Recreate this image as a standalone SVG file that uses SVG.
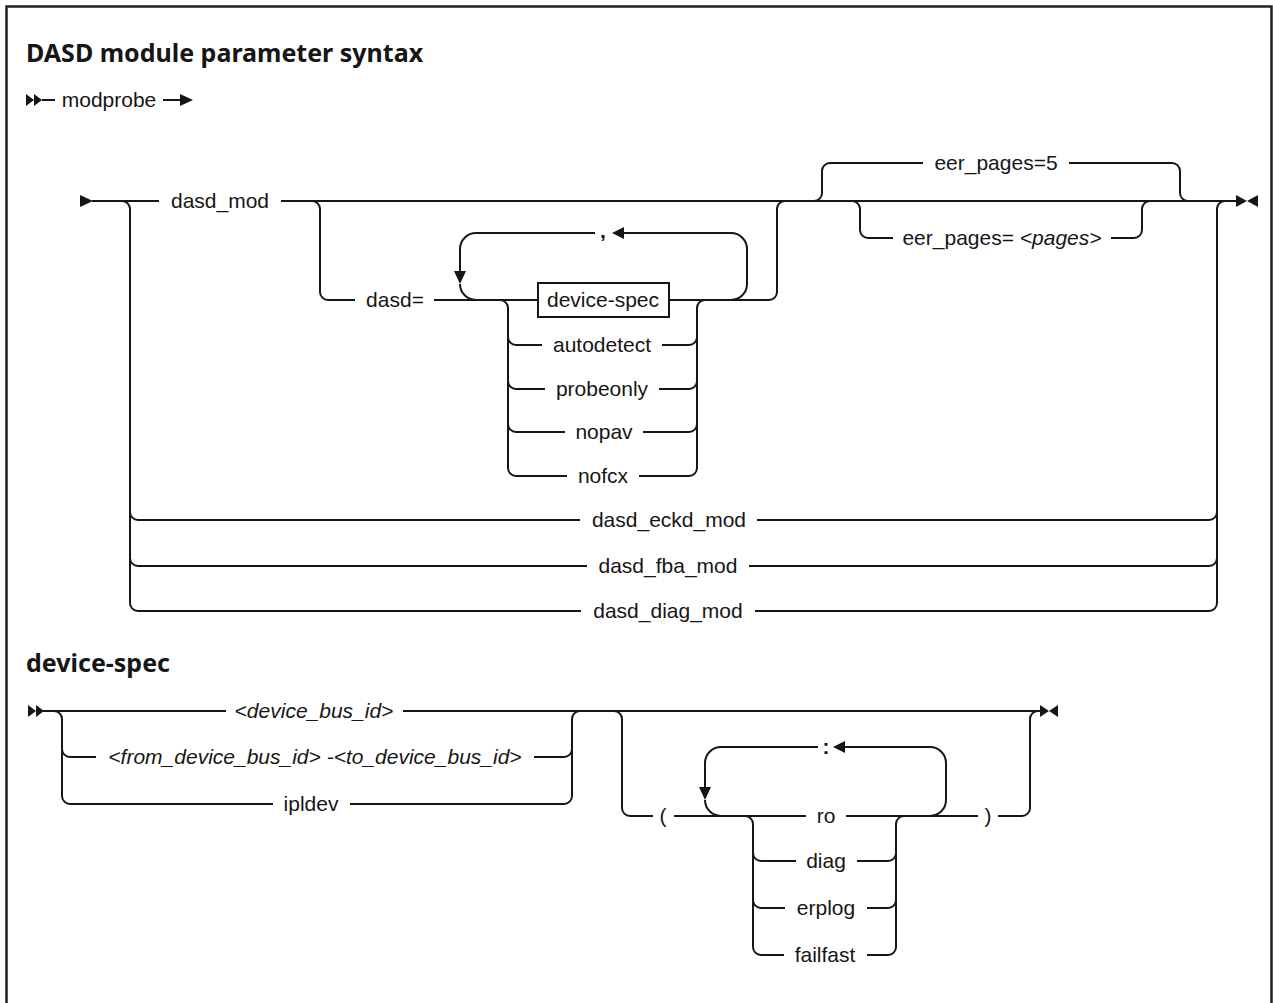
<svg xmlns="http://www.w3.org/2000/svg" width="1273" height="1003" viewBox="0 0 1273 1003">
<style>
.l{fill:none;stroke:#161616;stroke-width:2}
.a{fill:#161616}
.t{font-family:"Liberation Sans",Arial,sans-serif;font-size:21px;fill:#161616;text-anchor:middle}
.i{font-style:italic}
.h{font-family:"Noto Sans","Liberation Sans",sans-serif;font-size:25px;font-weight:bold;fill:#161616}
</style>
<rect width="1273" height="1003" fill="#fff"/>
<path d="M6.5,1003 V6.5 H1271.5 V1003" fill="none" stroke="#222" stroke-width="2.5"/>
<g id="titles">
<text class="h" x="26" y="62">DASD module parameter syntax</text>
<text class="h" x="26" y="672">device-spec</text>
</g>
<g id="connectors">
<polygon class="a" points="26,94 34,100 26,106"/><polygon class="a" points="34,94 42,100 34,106"/>
<path class="l" d="M42,100 H55 M163,100 H181"/>
<polygon class="a" points="180,94 193,100 180,106"/>
<polygon class="a" points="80,195 93,201 80,207"/>
<path class="l" d="M92,201 H159 M281,201 H1237"/>
<path class="l" d="M122,201 a8,8 0 0 1 8,8 V603 a8,8 0 0 0 8,8 H581 M130,512 a8,8 0 0 0 8,8 H580 M130,558 a8,8 0 0 0 8,8 H587"/>
<path class="l" d="M757,520 H1209 a8,8 0 0 0 8,-8 M749,566 H1209 a8,8 0 0 0 8,-8 M755,611 H1209 a8,8 0 0 0 8,-8 V209 a8,8 0 0 1 8,-8"/>
<path class="l" d="M312,201 a8,8 0 0 1 8,8 V292 a8,8 0 0 0 8,8 H355 M434,300 H538"/>
<path class="l" d="M595,233 H476 a16,16 0 0 0 -16,16 V272 M460,284 a16,16 0 0 0 16,16"/>
<polygon class="a" points="454,271 466,271 460,284"/>
<polygon class="a" points="612,233 624,227 624,239"/>
<path class="l" d="M623,233 H731 a16,16 0 0 1 16,16 V284 a16,16 0 0 1 -16,16"/>
<path class="l" d="M669,300 H769 a8,8 0 0 0 8,-8 V209 a8,8 0 0 1 8,-8"/>
<path class="l" d="M500,300 a8,8 0 0 1 8,8 V468 a8,8 0 0 0 8,8 H567 M508,337 a8,8 0 0 0 8,8 H542 M508,381 a8,8 0 0 0 8,8 H545 M508,424 a8,8 0 0 0 8,8 H565"/>
<path class="l" d="M662,345 H689 a8,8 0 0 0 8,-8 M659,389 H689 a8,8 0 0 0 8,-8 M643,432 H689 a8,8 0 0 0 8,-8 M639,476 H689 a8,8 0 0 0 8,-8 V308 a8,8 0 0 1 8,-8"/>
<path class="l" d="M814,201 a8,8 0 0 0 8,-8 V171 a8,8 0 0 1 8,-8 H923 M1069,163 H1172 a8,8 0 0 1 8,8 V193 a8,8 0 0 0 8,8"/>
<path class="l" d="M852,201 a8,8 0 0 1 8,8 V230 a8,8 0 0 0 8,8 H893 M1111,238 H1134 a8,8 0 0 0 8,-8 V209 a8,8 0 0 1 8,-8"/>
<polygon class="a" points="1236,195 1247,201 1236,207"/><polygon class="a" points="1258,195 1247,201 1258,207"/>
<polygon class="a" points="28,705 36,711 28,717"/><polygon class="a" points="36,705 44,711 36,717"/>
<path class="l" d="M43,711 H226 M403,711 H1041"/>
<path class="l" d="M54,711 a8,8 0 0 1 8,8 V796 a8,8 0 0 0 8,8 H273 M62,749 a8,8 0 0 0 8,8 H96"/>
<path class="l" d="M534,757 H564 a8,8 0 0 0 8,-8 M350,804 H564 a8,8 0 0 0 8,-8 V719 a8,8 0 0 1 8,-8"/>
<path class="l" d="M614,711 a8,8 0 0 1 8,8 V808 a8,8 0 0 0 8,8 H653 M674,816 H806 M846,816 H978 M998,816 H1022 a8,8 0 0 0 8,-8 V719 a8,8 0 0 1 8,-8"/>
<path class="l" d="M818,747 H721 a16,16 0 0 0 -16,16 V788 M705,800 a16,16 0 0 0 16,16"/>
<polygon class="a" points="699,787 711,787 705,800"/>
<polygon class="a" points="833,747 845,741 845,753"/>
<path class="l" d="M844,747 H930 a16,16 0 0 1 16,16 V800 a16,16 0 0 1 -16,16"/>
<path class="l" d="M745,816 a8,8 0 0 1 8,8 V947 a8,8 0 0 0 8,8 H784 M753,853 a8,8 0 0 0 8,8 H796 M753,900 a8,8 0 0 0 8,8 H785"/>
<path class="l" d="M857,861 H888 a8,8 0 0 0 8,-8 M867,908 H888 a8,8 0 0 0 8,-8 M867,955 H888 a8,8 0 0 0 8,-8 V824 a8,8 0 0 1 8,-8"/>
<polygon class="a" points="1040,705 1049,711 1040,717"/><polygon class="a" points="1058,705 1049,711 1058,717"/>
</g>
<g id="n-modprobe"><text class="t" x="109" y="107">modprobe</text></g>
<g id="n-dasd_mod"><text class="t" x="220" y="208">dasd_mod</text></g>
<g id="n-dasd-eq"><text class="t" x="395" y="307">dasd=</text></g>
<g id="n-comma"><text class="t" x="603" y="238" style="font-weight:bold">,</text></g>
<g id="n-device-spec"><rect x="538" y="283" width="131" height="34" fill="#fff" stroke="#161616" stroke-width="2"/><text class="t" x="603" y="307">device-spec</text></g>
<g id="n-autodetect"><text class="t" x="602" y="352">autodetect</text></g>
<g id="n-probeonly"><text class="t" x="602" y="396">probeonly</text></g>
<g id="n-nopav"><text class="t" x="604" y="439">nopav</text></g>
<g id="n-nofcx"><text class="t" x="603" y="483">nofcx</text></g>
<g id="n-eer5"><text class="t" x="996" y="170">eer_pages=5</text></g>
<g id="n-eerpages"><text class="t" x="1002" y="245">eer_pages= <tspan class="i">&lt;pages&gt;</tspan></text></g>
<g id="n-eckd"><text class="t" x="669" y="527">dasd_eckd_mod</text></g>
<g id="n-fba"><text class="t" x="668" y="573">dasd_fba_mod</text></g>
<g id="n-diag-mod"><text class="t" x="668" y="618">dasd_diag_mod</text></g>
<g id="n-busid"><text class="t i" x="314" y="718">&lt;device_bus_id&gt;</text></g>
<g id="n-range"><text class="t i" x="315" y="764">&lt;from_device_bus_id&gt; -&lt;to_device_bus_id&gt;</text></g>
<g id="n-ipldev"><text class="t" x="311" y="811">ipldev</text></g>
<g id="n-lparen"><text class="t" x="663" y="823">(</text></g>
<g id="n-colon"><text class="t" x="826" y="754" style="font-weight:bold">:</text></g>
<g id="n-ro"><text class="t" x="826" y="823">ro</text></g>
<g id="n-diag"><text class="t" x="826" y="868">diag</text></g>
<g id="n-erplog"><text class="t" x="826" y="915">erplog</text></g>
<g id="n-failfast"><text class="t" x="825" y="962">failfast</text></g>
<g id="n-rparen"><text class="t" x="988" y="823">)</text></g>
</svg>
